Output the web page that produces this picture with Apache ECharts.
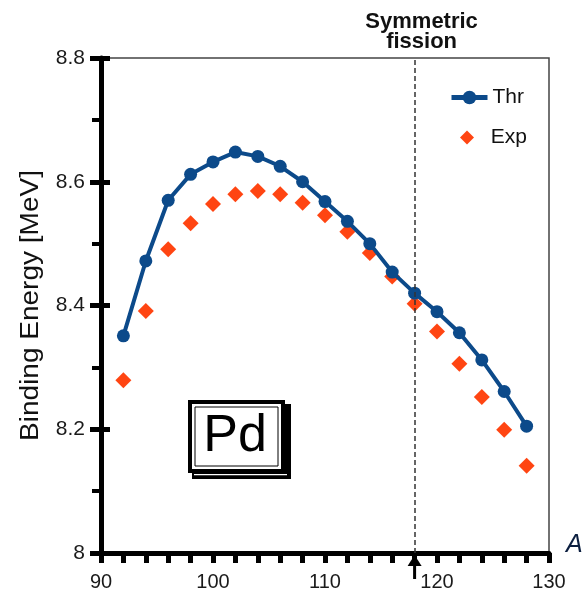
<!DOCTYPE html>
<html>
<head>
<meta charset="utf-8">
<script src="https://cdn.jsdelivr.net/npm/echarts@6/dist/echarts.min.js"></script>
<style>
  html, body { margin: 0; padding: 0; background: #fff; }
  #main { width: 582px; height: 595px; }
</style>
</head>
<body>
<div id="main"></div>
<script>
// mass number A
var massNumbers = [92, 94, 96, 98, 100, 102, 104, 106, 108, 110, 112, 114, 116, 118, 120, 122, 124, 126, 128];
// binding energy per nucleon [MeV]
var thrValues = [8.351, 8.472, 8.570, 8.612, 8.632, 8.648, 8.641, 8.625, 8.600, 8.568, 8.536, 8.500, 8.454, 8.420, 8.390, 8.356, 8.312, 8.261, 8.205];
var expValues = [8.279, 8.391, 8.491, 8.533, 8.564, 8.580, 8.585, 8.580, 8.566, 8.546, 8.519, 8.485, 8.447, 8.403, 8.358, 8.306, 8.252, 8.199, 8.141];
var seriesNames = ['Thr', 'Exp'];
var xRange = [90, 130];
var yRange = [8, 8.8];
var symFission = 118;

var FONT = '"Liberation Sans", Arial, sans-serif';
var BLUE = '#0c4a8a';
var ORANGE = '#ff4512';

function pairs(vals) {
  return massNumbers.map(function (a, i) { return [a, vals[i]]; });
}

var chart = echarts.init(document.getElementById('main'), null, { renderer: 'canvas' });

var legendText = { fontSize: 21, color: '#111', fontFamily: FONT };

var option = {
  animation: false,
  grid: {
    left: 101, right: 33, top: 58, bottom: 42,
    show: true, borderColor: '#444', borderWidth: 1.5
  },
  legend: [{
    data: [seriesNames[0]],
    left: 444, top: 82,
    itemWidth: 36, itemHeight: 17,
    lineStyle: { width: 5 },
    textStyle: legendText
  }, {
    data: [seriesNames[1]],
    left: 455, top: 122,
    itemWidth: 14, itemHeight: 14,
    formatter: '  {name}',
    textStyle: legendText
  }],
  xAxis: {
    type: 'value',
    min: xRange[0], max: xRange[1], interval: 10,
    axisLine: { lineStyle: { color: '#000', width: 5 } },
    axisTick: { length: 10, lineStyle: { width: 5, color: '#000' } },
    minorTick: { show: true, splitNumber: 5, length: 10, lineStyle: { width: 5, color: '#000' } },
    splitLine: { show: false },
    axisLabel: { fontSize: 20, color: '#1a1a1a', fontFamily: FONT, margin: 19 }
  },
  yAxis: [{
    type: 'value',
    min: yRange[0], max: yRange[1], interval: 0.2,
    axisLine: { show: true, lineStyle: { color: '#000', width: 5 } },
    axisTick: { length: 11, lineStyle: { width: 5, color: '#000' } },
    minorTick: { show: true, splitNumber: 2, length: 9, lineStyle: { width: 4, color: '#000' } },
    splitLine: { show: false },
    axisLabel: { fontSize: 21, color: '#1a1a1a', fontFamily: FONT, margin: 16 }
  }, {
    // inward half of the major ticks
    type: 'value',
    position: 'left',
    min: yRange[0], max: yRange[1], interval: 0.2,
    axisLine: { show: false },
    axisTick: { show: true, inside: true, length: 9, lineStyle: { width: 5, color: '#000' } },
    axisLabel: { show: false },
    splitLine: { show: false }
  }],
  series: [{
    name: seriesNames[0],
    type: 'line',
    data: pairs(thrValues),
    symbol: 'circle',
    symbolSize: 13,
    color: BLUE,
    itemStyle: { color: BLUE, opacity: 1 },
    lineStyle: { color: BLUE, width: 4 },
    z: 3,
    markLine: {
      silent: true,
      symbol: ['none', 'none'],
      label: { show: false },
      lineStyle: { color: '#333', width: 1.5, type: [5, 3] },
      data: [{ xAxis: symFission }]
    }
  }, {
    name: seriesNames[1],
    type: 'scatter',
    data: pairs(expValues),
    symbol: 'diamond',
    symbolSize: 16,
    color: ORANGE,
    itemStyle: { color: ORANGE, opacity: 1 },
    z: 2
  }]
};

chart.setOption(option);

// annotations placed from the axis scale
var sx = chart.convertToPixel({ xAxisIndex: 0 }, symFission);
var yBottom = chart.convertToPixel({ yAxisIndex: 0 }, yRange[0]);
var yMid = chart.convertToPixel({ yAxisIndex: 0 }, (yRange[0] + yRange[1]) / 2);

chart.setOption({
  graphic: [
    {
      // y axis title, stretched like the original
      type: 'text', x: 31, y: yMid, rotation: Math.PI / 2, scaleX: 1.12,
      style: {
        text: 'Binding Energy [MeV]', align: 'center', verticalAlign: 'middle',
        font: '25px ' + FONT, fill: '#111'
      }
    },
    {
      type: 'text', x: sx + 7, y: 12,
      style: {
        text: 'Symmetric\nfission', align: 'center', verticalAlign: 'top',
        font: 'bold 22px ' + FONT, lineHeight: 20, fill: '#111'
      }
    },
    {
      type: 'text', left: 566, top: 533,
      style: { text: 'A', font: 'italic 25px ' + FONT, fill: '#0c1f40' }
    },
    // arrow under the axis
    {
      type: 'rect', shape: { x: sx - 1.5, y: yBottom + 10, width: 3, height: 16 },
      style: { fill: '#000' }
    },
    {
      type: 'polygon',
      shape: { points: [[sx, yBottom + 2], [sx - 7, yBottom + 13], [sx + 7, yBottom + 13]] },
      style: { fill: '#000' }
    },
    // Pd label box
    {
      type: 'rect', shape: { x: 192, y: 404, width: 99, height: 75 },
      style: { fill: '#000' }
    },
    {
      type: 'rect', shape: { x: 190, y: 402, width: 93, height: 69 },
      style: { fill: '#fff', stroke: '#000', lineWidth: 4 }
    },
    {
      type: 'rect', shape: { x: 195, y: 407, width: 83, height: 59 },
      style: { fill: 'none', stroke: '#000', lineWidth: 1 }
    },
    {
      type: 'rect', shape: { x: 194, y: 474, width: 93, height: 1.2 },
      style: { fill: '#fff' }
    },
    {
      type: 'text', x: 235, y: 437,
      style: { text: 'Pd', align: 'center', verticalAlign: 'middle', font: '52px ' + FONT, fill: '#000' }
    }
  ]
});
</script>
</body>
</html>
